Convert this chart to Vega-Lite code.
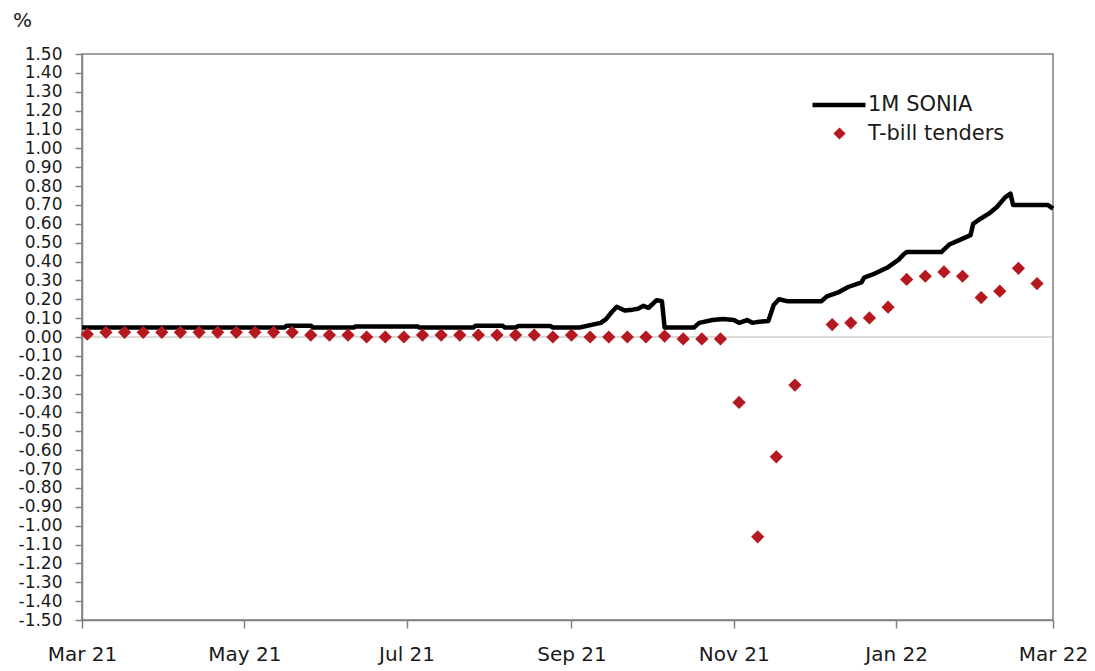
{
  "$schema": "https://vega.github.io/schema/vega-lite/v6.json",
  "width": 971,
  "height": 566,
  "autosize": {"type": "none"},
  "padding": {"left": 82, "top": 54, "right": 42, "bottom": 51},
  "background": "white",
  "config": {
    "font": "DejaVu Sans",
    "view": {"stroke": "#808080", "strokeWidth": 1.5},
    "axis": {
      "grid": false,
      "labelFontSize": 20,
      "labelColor": "#1a1a1a",
      "tickColor": "#808080",
      "tickWidth": 1.5,
      "domainColor": "#808080",
      "domainWidth": 1.5,
      "labelOverlap": false,
      "labelFlush": false,
      "ticks": true
    },
    "axisX": {"labelPadding": 16, "tickSize": 8},
    "axisY": {"labelPadding": 13, "tickSize": 7, "labelFontSize": 17}
  },
  "datasets": {
    "sonia": [
      {"date": "2021/03/01", "v": 0.05},
      {"date": "2021/05/16", "v": 0.05},
      {"date": "2021/05/17", "v": 0.06},
      {"date": "2021/05/26", "v": 0.06},
      {"date": "2021/05/27", "v": 0.05},
      {"date": "2021/06/11", "v": 0.05},
      {"date": "2021/06/12", "v": 0.056},
      {"date": "2021/07/05", "v": 0.056},
      {"date": "2021/07/06", "v": 0.05},
      {"date": "2021/07/26", "v": 0.05},
      {"date": "2021/07/27", "v": 0.06},
      {"date": "2021/08/06", "v": 0.06},
      {"date": "2021/08/07", "v": 0.05},
      {"date": "2021/08/11", "v": 0.05},
      {"date": "2021/08/12", "v": 0.058},
      {"date": "2021/08/24", "v": 0.058},
      {"date": "2021/08/25", "v": 0.05},
      {"date": "2021/09/04", "v": 0.05},
      {"date": "2021/09/12", "v": 0.075},
      {"date": "2021/09/14", "v": 0.095},
      {"date": "2021/09/16", "v": 0.13},
      {"date": "2021/09/18", "v": 0.16},
      {"date": "2021/09/21", "v": 0.14},
      {"date": "2021/09/24", "v": 0.145},
      {"date": "2021/09/26", "v": 0.15},
      {"date": "2021/09/28", "v": 0.165},
      {"date": "2021/09/30", "v": 0.155},
      {"date": "2021/10/03", "v": 0.195},
      {"date": "2021/10/05", "v": 0.19},
      {"date": "2021/10/06", "v": 0.05},
      {"date": "2021/10/17", "v": 0.05},
      {"date": "2021/10/19", "v": 0.075},
      {"date": "2021/10/24", "v": 0.09},
      {"date": "2021/10/28", "v": 0.095},
      {"date": "2021/11/01", "v": 0.09},
      {"date": "2021/11/03", "v": 0.075},
      {"date": "2021/11/06", "v": 0.09},
      {"date": "2021/11/08", "v": 0.075},
      {"date": "2021/11/10", "v": 0.08},
      {"date": "2021/11/14", "v": 0.085},
      {"date": "2021/11/16", "v": 0.17},
      {"date": "2021/11/18", "v": 0.2},
      {"date": "2021/11/21", "v": 0.19},
      {"date": "2021/12/04", "v": 0.19},
      {"date": "2021/12/06", "v": 0.215},
      {"date": "2021/12/10", "v": 0.235},
      {"date": "2021/12/14", "v": 0.265},
      {"date": "2021/12/19", "v": 0.29},
      {"date": "2021/12/20", "v": 0.315},
      {"date": "2021/12/23", "v": 0.33},
      {"date": "2021/12/29", "v": 0.37},
      {"date": "2022/01/02", "v": 0.41},
      {"date": "2022/01/04", "v": 0.44},
      {"date": "2022/01/05", "v": 0.45},
      {"date": "2022/01/18", "v": 0.45},
      {"date": "2022/01/21", "v": 0.49},
      {"date": "2022/01/25", "v": 0.515},
      {"date": "2022/01/29", "v": 0.54},
      {"date": "2022/01/30", "v": 0.6},
      {"date": "2022/02/01", "v": 0.62},
      {"date": "2022/02/05", "v": 0.655},
      {"date": "2022/02/08", "v": 0.69},
      {"date": "2022/02/11", "v": 0.74},
      {"date": "2022/02/13", "v": 0.76},
      {"date": "2022/02/14", "v": 0.7},
      {"date": "2022/02/27", "v": 0.7},
      {"date": "2022/03/01", "v": 0.68}
    ],
    "tbill": [
      {"date": "2021/03/03", "v": 0.015},
      {"date": "2021/03/10", "v": 0.025},
      {"date": "2021/03/17", "v": 0.025},
      {"date": "2021/03/24", "v": 0.025},
      {"date": "2021/03/31", "v": 0.025},
      {"date": "2021/04/07", "v": 0.025},
      {"date": "2021/04/14", "v": 0.025},
      {"date": "2021/04/21", "v": 0.025},
      {"date": "2021/04/28", "v": 0.025},
      {"date": "2021/05/05", "v": 0.025},
      {"date": "2021/05/12", "v": 0.025},
      {"date": "2021/05/19", "v": 0.025},
      {"date": "2021/05/26", "v": 0.01},
      {"date": "2021/06/02", "v": 0.01},
      {"date": "2021/06/09", "v": 0.01},
      {"date": "2021/06/16", "v": 0.0},
      {"date": "2021/06/23", "v": 0.0},
      {"date": "2021/06/30", "v": 0.0},
      {"date": "2021/07/07", "v": 0.01},
      {"date": "2021/07/14", "v": 0.01},
      {"date": "2021/07/21", "v": 0.01},
      {"date": "2021/07/28", "v": 0.01},
      {"date": "2021/08/04", "v": 0.01},
      {"date": "2021/08/11", "v": 0.01},
      {"date": "2021/08/18", "v": 0.01},
      {"date": "2021/08/25", "v": 0.0},
      {"date": "2021/09/01", "v": 0.01},
      {"date": "2021/09/08", "v": 0.0},
      {"date": "2021/09/15", "v": 0.0},
      {"date": "2021/09/22", "v": 0.0},
      {"date": "2021/09/29", "v": 0.0},
      {"date": "2021/10/06", "v": 0.005},
      {"date": "2021/10/13", "v": -0.01},
      {"date": "2021/10/20", "v": -0.01},
      {"date": "2021/10/27", "v": -0.01},
      {"date": "2021/11/03", "v": -0.347},
      {"date": "2021/11/10", "v": -1.059},
      {"date": "2021/11/17", "v": -0.635},
      {"date": "2021/11/24", "v": -0.255},
      {"date": "2021/12/08", "v": 0.066},
      {"date": "2021/12/15", "v": 0.075},
      {"date": "2021/12/22", "v": 0.101},
      {"date": "2021/12/29", "v": 0.158},
      {"date": "2022/01/05", "v": 0.305},
      {"date": "2022/01/12", "v": 0.322},
      {"date": "2022/01/19", "v": 0.345},
      {"date": "2022/01/26", "v": 0.322},
      {"date": "2022/02/02", "v": 0.209},
      {"date": "2022/02/09", "v": 0.243},
      {"date": "2022/02/16", "v": 0.364},
      {"date": "2022/02/23", "v": 0.283}
    ]
  },
  "layer": [
    {
      "data": {"name": "sonia"},
      "mark": {"type": "line", "strokeWidth": 4.5, "strokeJoin": "round"},
      "encoding": {
        "x": {
          "field": "date",
          "type": "temporal",
          "scale": {"domain": [{"year": 2021, "month": 3, "date": 1}, {"year": 2022, "month": 3, "date": 1}]},
          "axis": {
            "title": null,
            "values": [
              {"year": 2021, "month": 3, "date": 1},
              {"year": 2021, "month": 5, "date": 1},
              {"year": 2021, "month": 7, "date": 1},
              {"year": 2021, "month": 9, "date": 1},
              {"year": 2021, "month": 11, "date": 1},
              {"year": 2022, "month": 1, "date": 1},
              {"year": 2022, "month": 3, "date": 1}
            ],
            "format": "%b %y",
            "labelOverlap": false
          }
        },
        "y": {
          "field": "v",
          "type": "quantitative",
          "scale": {"domain": [-1.5, 1.5], "nice": false, "zero": false},
          "axis": {
            "title": "%",
            "titleAngle": 0,
            "titleX": -60,
            "titleY": -34,
            "titleAlign": "center",
            "titleBaseline": "middle",
            "titleFontSize": 20,
            "titleFontWeight": "normal",
            "titleColor": "#1a1a1a",
            "values": [-1.5, -1.4, -1.3, -1.2, -1.1, -1.0, -0.9, -0.8, -0.7, -0.6, -0.5, -0.4, -0.3, -0.2, -0.1, 0, 0.1, 0.2, 0.3, 0.4, 0.5, 0.6, 0.7, 0.8, 0.9, 1.0, 1.1, 1.2, 1.3, 1.4, 1.5],
            "labelExpr": "datum.value < -0.001 ? '-' + format(-datum.value, '.2f') : format(abs(datum.value), '.2f')",
            "labelOverlap": false
          }
        },
        "stroke": {
          "datum": "1M SONIA",
          "scale": {"range": ["black"]},
          "legend": {
            "orient": "none",
            "legendX": 728,
            "legendY": 22,
            "title": null,
            "symbolType": "stroke",
            "symbolSize": 2809,
            "symbolStrokeWidth": 4.5,
            "labelFontSize": 21,
            "labelOffset": 0,
            "labelColor": "#1a1a1a",
            "padding": 0
          }
        }
      }
    },
    {
      "data": {"values": [{"v": 0}]},
      "mark": {"type": "rule", "color": "#b4b4b4", "strokeWidth": 1},
      "encoding": {
        "y": {
          "field": "v",
          "type": "quantitative",
          "axis": {
            "title": "%",
            "values": [-1.5, -1.4, -1.3, -1.2, -1.1, -1.0, -0.9, -0.8, -0.7, -0.6, -0.5, -0.4, -0.3, -0.2, -0.1, 0, 0.1, 0.2, 0.3, 0.4, 0.5, 0.6, 0.7, 0.8, 0.9, 1.0, 1.1, 1.2, 1.3, 1.4, 1.5],
            "labelOverlap": false
          }
        }
      }
    },
    {
      "data": {"name": "tbill"},
      "mark": {"type": "point", "shape": "diamond", "filled": true, "size": 175, "opacity": 1},
      "encoding": {
        "x": {"field": "date", "type": "temporal", "axis": {"title": null, "labelOverlap": false}},
        "y": {
          "field": "v",
          "type": "quantitative",
          "axis": {
            "title": "%",
            "values": [-1.5, -1.4, -1.3, -1.2, -1.1, -1.0, -0.9, -0.8, -0.7, -0.6, -0.5, -0.4, -0.3, -0.2, -0.1, 0, 0.1, 0.2, 0.3, 0.4, 0.5, 0.6, 0.7, 0.8, 0.9, 1.0, 1.1, 1.2, 1.3, 1.4, 1.5],
            "labelOverlap": false
          }
        },
        "fill": {
          "datum": "T-bill tenders",
          "scale": {"range": ["#B5191F"]},
          "legend": {
            "orient": "none",
            "legendX": 747,
            "legendY": 69,
            "title": null,
            "symbolType": "diamond",
            "symbolSize": 150,
            "labelFontSize": 21,
            "labelOffset": 18,
            "labelColor": "#1a1a1a",
            "padding": 0
          }
        }
      }
    }
  ]
}
